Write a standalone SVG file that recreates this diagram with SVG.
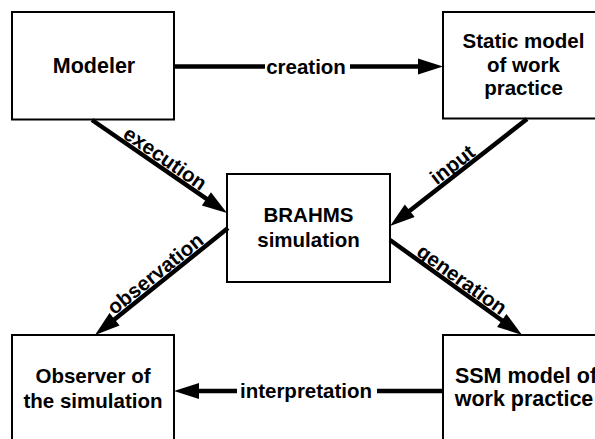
<svg xmlns="http://www.w3.org/2000/svg" width="595" height="439" viewBox="0 0 595 439">
<style>
.box{fill:#fff;stroke:#000;stroke-width:2}
.t{font-family:"Liberation Sans",Arial,sans-serif;font-weight:bold;font-size:20.5px;text-anchor:middle;fill:#000}
.big{font-size:21.5px}
.c{stroke:#000;stroke-width:4.5;fill:none}
</style>
<defs>
<marker id="ah" markerUnits="userSpaceOnUse" markerWidth="26" markerHeight="18" refX="13" refY="8" orient="auto" overflow="visible">
<path d="M0,0 L25,8 L0,16 z" fill="#000"/>
</marker>
</defs>
<rect width="595" height="439" fill="#fff"/>
<g id="modeler"><rect class="box" x="12" y="12" width="162" height="107.5"/><text class="t big" x="94" y="73">Modeler</text></g>
<g id="static"><rect class="box" x="443" y="12" width="162" height="106.5"/><text class="t" x="523.5" y="48">Static model</text><text class="t" x="523.5" y="72">of work</text><text class="t" x="523.5" y="95">practice</text></g>
<g id="brahms"><rect class="box" x="227" y="174" width="163" height="108"/><text class="t" x="308.5" y="222">BRAHMS</text><text class="t" x="308.5" y="247">simulation</text></g>
<g id="observer"><rect class="box" x="12" y="335" width="162" height="110"/><text class="t" x="93" y="383">Observer of</text><text class="t" x="93" y="408">the simulation</text></g>
<g id="ssm"><rect class="box" x="443" y="335" width="162" height="110"/><text class="t big" x="526" y="383">SSM model of</text><text class="t big" x="524" y="406">work practice</text></g>
<g id="connectors">
<line class="c" x1="174" y1="66.5" x2="265" y2="66.5"/>
<line class="c" x1="350" y1="66.5" x2="431" y2="66.5" marker-end="url(#ah)"/>
<text class="t" x="306" y="73.5">creation</text>
<line class="c" x1="443" y1="391" x2="377" y2="391"/>
<line class="c" x1="237" y1="391" x2="186" y2="391" marker-end="url(#ah)"/>
<text class="t" x="306" y="398">interpretation</text>
<line class="c" x1="92" y1="120" x2="217.1" y2="206.2" marker-end="url(#ah)"/>
<text class="t" transform="translate(159.5,166.5) rotate(34.56)" x="0" y="-3">execution</text>
<line class="c" x1="527" y1="119" x2="399.5" y2="218.7" marker-end="url(#ah)"/>
<text class="t" transform="translate(458.5,172.5) rotate(-37.7)" x="0" y="-3">input</text>
<line class="c" x1="228" y1="228" x2="104.4" y2="327.5" marker-end="url(#ah)"/>
<text class="t" transform="translate(161.5,281.5) rotate(-38.8)" x="0" y="-3">observation</text>
<line class="c" x1="390" y1="240" x2="512.3" y2="328" marker-end="url(#ah)"/>
<text class="t" transform="translate(456,287.5) rotate(35.7)" x="0" y="-3">generation</text>
</g>
</svg>
